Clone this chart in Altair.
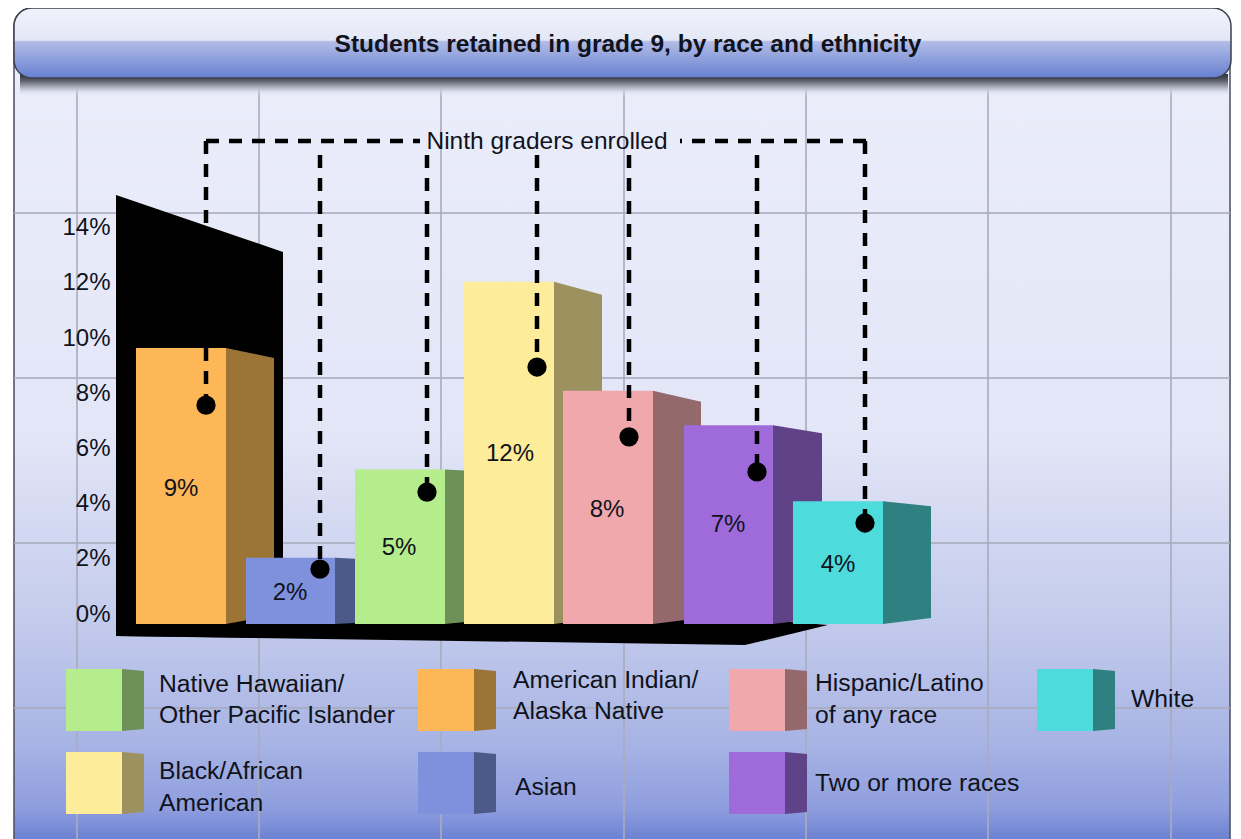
import altair as alt
import pandas as pd

# ---- chart values ----
labels = ["9%", "2%", "5%", "12%", "8%", "7%", "4%"]
bar_tops = [10.0, 2.4, 5.6, 12.4, 8.45, 7.2, 4.45]      # read against the y axis
enrolled = [7.93, 1.99, 4.78, 9.31, 6.78, 5.51, 3.66]   # dot heights against the y axis
y_ticks = [0, 2, 4, 6, 8, 10, 12, 14]
title = "Students retained in grade 9, by race and ethnicity"
dash_label = "Ninth graders enrolled"

# ---- layout / styles ----
BASE, K = 624.0, 27.6
W, H = 1225, 831
def yv(p):
    return (BASE - p) / K

bar_left = [136, 246, 355, 464, 563, 684, 793]
bar_right = [226, 335, 445, 554, 653, 773, 883]
side_right = [274, 355, 465, 602, 701, 822, 931]
side_drop = [10, 1, 1, 13, 11, 8, 5]
side_rise = [9, 1, 2, 6, 6, 6, 6]
fills = ["#FDB757", "#7F90DC", "#B5EC8C", "#FDEC9A", "#F0A8AC", "#9F6BDA", "#4EDBDB"]
sides = ["#9C7436", "#4B5A88", "#6D9158", "#9C9260", "#94696C", "#5F4288", "#2F8080"]
label_x = [181, 290, 399, 510, 607, 728, 838]
label_y = [489, 593, 548, 454, 510, 525, 565]
dot_x = [206, 320, 427, 537, 629, 757, 865]
dash_top = [141, 155, 155, 155, 155, 155, 141]

grid_x = [77, 259, 441, 624, 806, 988, 1171]
grid_y = [213, 378, 543, 708]

leg_left = [66, 418, 729, 1037, 66, 418, 729]
leg_top = [669, 669, 669, 669, 752, 752, 752]
leg_fill = ["#B5EC8C", "#FDB757", "#F0A8AC", "#4EDBDB", "#FDEC9A", "#7F90DC", "#9F6BDA"]
leg_side = ["#6D9158", "#9C7436", "#94696C", "#2F8080", "#9C9260", "#4B5A88", "#5F4288"]

leg_text = ["Native Hawaiian/", "Other Pacific Islander", "American Indian/", "Alaska Native",
            "Hispanic/Latino", "of any race", "White", "Black/African", "American",
            "Asian", "Two or more races"]
leg_text_x = [159, 159, 513, 513, 815, 815, 1131, 159, 159, 515, 815]
leg_text_y = [685, 716, 681, 712, 684, 716, 700, 772, 804, 788, 784]

FONT = "Liberation Sans"
INK = "#10121c"
RIGHT = 1231

xs = alt.Scale(domain=[8, 8 + W], range=[0, W], nice=False, zero=False)
ys = alt.Scale(domain=[yv(8 + H), yv(8)], range=[H, 0], nice=False, zero=False)
AXIS = alt.Axis(values=y_ticks, labelExpr="datum.value + '%'", ticks=False, domain=False, grid=False,
                title=None, offset=-102, labelPadding=0, labelOffset=-10, labelFont=FONT, labelFontSize=24,
                labelColor=INK, labelFontWeight="normal", zindex=1)
X = alt.X("x:Q", scale=xs, axis=None)
Y = alt.Y("y:Q", scale=ys, axis=AXIS)
X2 = alt.X2("x2:Q")
Y2 = alt.Y2("y2:Q")

def grad(stops):
    return alt.Gradient(gradient="linear", x1=0, x2=0, y1=0, y2=1,
                        stops=[alt.GradientStop(offset=o, color=c) for o, c in stops])

def rect(x, x2, p, p2, **kw):
    df = pd.DataFrame({"x": [x], "x2": [x2], "y": [yv(p)], "y2": [yv(p2)]})
    return alt.Chart(df).mark_rect(**kw).encode(x=X, x2=X2, y=Y, y2=Y2)

def poly(xv, top, bottom, fill):
    df = pd.DataFrame({"x": xv, "y": [yv(p) for p in top], "y2": [yv(p) for p in bottom]})
    return alt.Chart(df).mark_area(fill=fill, interpolate="linear", opacity=1).encode(x=X, y=Y, y2=Y2)

def texts(tx, ty, tt, size, **kw):
    df = pd.DataFrame({"x": tx, "y": [yv(p) for p in ty], "t": tt})
    return alt.Chart(df).mark_text(font=FONT, fontSize=size, color=INK, baseline="middle", **kw).encode(
        x=X, y=Y, text="t:N")

layers = []

# panel
layers.append(rect(14, RIGHT - 1, 8, 860, cornerRadius=18, stroke="#4a4d5c", strokeWidth=1.5,
                   fill=grad([(0, "#eceefb"), (0.5, "#e3e6f7"), (0.72, "#c3cbec"),
                              (0.87, "#a6b2e4"), (0.94, "#8e9dde"), (0.975, "#6c82d2"), (1, "#6a80d2")])))

# grid
layers.append(alt.Chart(pd.DataFrame({"x": grid_x, "y": [yv(70)] * len(grid_x), "y2": [yv(839)] * len(grid_x)}))
              .mark_rule(color="#a9abbd", strokeWidth=2, opacity=0.8).encode(x=X, y=Y, y2=Y2))
layers.append(alt.Chart(pd.DataFrame({"x": [14] * len(grid_y), "x2": [RIGHT - 1] * len(grid_y), "y": [yv(p) for p in grid_y]}))
              .mark_rule(color="#a9abbd", strokeWidth=2, opacity=0.8).encode(x=X, x2=X2, y=Y))

# header with its shadow
layers.append(rect(20, RIGHT - 3, 74, 96, fill=grad([(0, "#30323c"), (0.3, "#5c5e6a"), (0.65, "#b9bccb"), (1, "#e9ecfa00")])))
layers.append(rect(14, RIGHT, 8, 78, cornerRadius=18, stroke="#3c3f4c", strokeWidth=1.5,
                   fill=grad([(0, "#f0f2fb"), (0.46, "#e4e7f5"), (0.48, "#b2bce6"), (1, "#6680d0")])))
layers.append(texts([628], [45], [title], 24.5, fontWeight="bold", align="center"))

# black back wall and floor
layers.append(poly([116, 283], [195, 252], [636, 638], "#000000"))
layers.append(poly([116, 745, 828], [618, 618, 625], [636, 645, 625], "#000000"))

# bars
for i in range(len(labels)):
    top = BASE - bar_tops[i] * K
    layers.append(poly([bar_right[i], side_right[i]], [top, top + side_drop[i]],
                       [BASE, BASE - side_rise[i]], sides[i]))
    df = pd.DataFrame({"x": [bar_left[i]], "x2": [bar_right[i]], "y": [bar_tops[i]], "y2": [0.0]})
    layers.append(alt.Chart(df).mark_rect(fill=fills[i]).encode(x=X, x2=X2, y=Y, y2=Y2))

layers.append(texts(label_x, label_y, labels, 24, align="center"))

# dashed connectors and dots
dash = dict(color="#000000", strokeWidth=4.5, strokeDash=[13, 10])
layers.append(alt.Chart(pd.DataFrame({"x": dot_x, "y": [yv(p) for p in dash_top], "y2": enrolled}))
              .mark_rule(**dash).encode(x=X, y=Y, y2=Y2))
layers.append(alt.Chart(pd.DataFrame({"x": [206, 866], "x2": [420, 680], "y": [yv(141)] * 2}))
              .mark_rule(**dash).encode(x=X, x2=X2, y=Y))
layers.append(alt.Chart(pd.DataFrame({"x": dot_x, "y": enrolled}))
              .mark_point(filled=True, fill="#000000", stroke="#000000", opacity=1, size=300, shape="circle")
              .encode(x=X, y=Y))
layers.append(texts([547], [142], [dash_label], 24.5, align="center"))

# legend
for i in range(len(leg_left)):
    l, t = leg_left[i], leg_top[i]
    layers.append(rect(l, l + 56, t, t + 62, fill=leg_fill[i]))
    layers.append(poly([l + 56, l + 78], [t, t + 2], [t + 62, t + 60], leg_side[i]))
layers.append(texts(leg_text_x, leg_text_y, leg_text, 24.7, align="left"))

chart = alt.layer(*layers).properties(
    width=W, height=H, padding=0, autosize=alt.AutoSizeParams(type="none"), background="#ffffff"
).configure_view(stroke=None)

chart.save("out.html", embed_options={"renderer": "svg", "actions": False})
